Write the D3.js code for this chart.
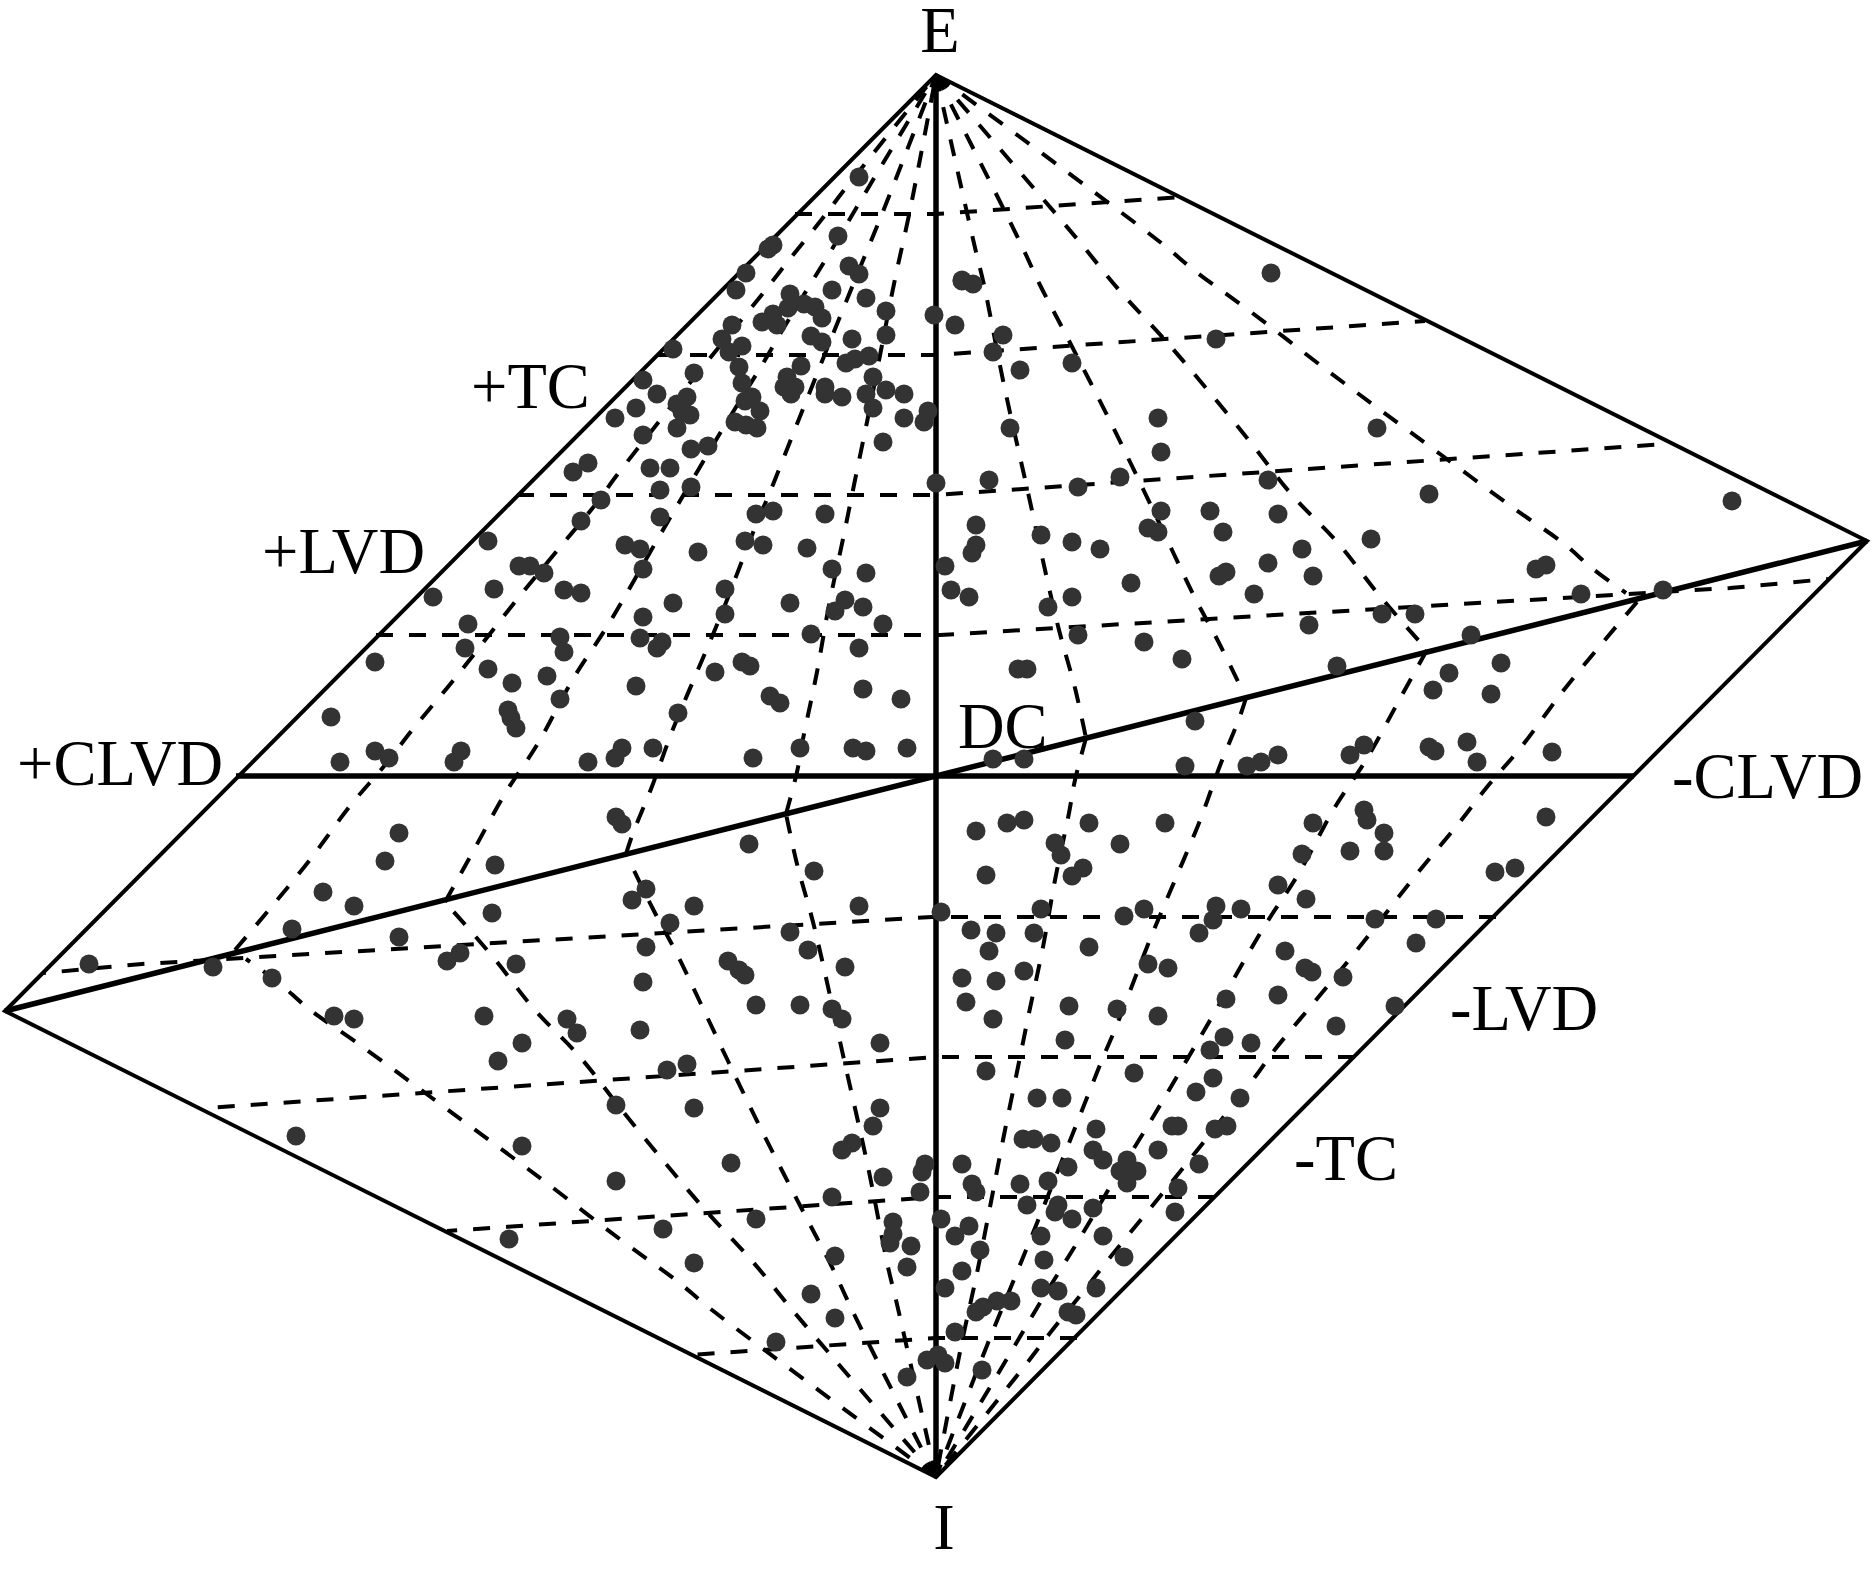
<!DOCTYPE html>
<html>
<head>
<meta charset="utf-8">
<title>Hudson source-type plot</title>
<style>
html, body { margin: 0; padding: 0; background: #fff; }
svg { display: block; }
.outline { fill: none; stroke: #000; stroke-width: 4px; }
.axis-line { fill: none; stroke: #000; stroke-width: 5.5px; }
.grid { fill: none; stroke: #000; stroke-width: 4px; stroke-dasharray: 17 16; }
.dot { fill: #333; }
.label { font-family: "Liberation Serif", "Times New Roman", serif; font-size: 64.5px; fill: #000; }
</style>
</head>
<body>
<div id="chart"></div>
<script src="https://cdn.jsdelivr.net/npm/d3@7"></script>
<script>

var apexE = [0, 701], apexI = [0, -701];
var vertexRight = [931, 235], vertexLeft = [-931, -235];
var clvdLeft = [-700, 0], clvdRight = [698, 0];

// near-horizontal dashed lines, upper half (lower half is the point reflection)
var levelLines = [
  [[-141, 562], [0, 562], [246, 579]],
  [[-279, 421], [0, 421], [489, 455]],
  [[-419, 281], [0, 281], [729, 332]],
  [[-560, 141], [4, 141], [794, 188], [892, 197]]
];

// dashed arcs right of the E-I axis, E to the diagonal (left side is the reflection of lowerArcs)
var upperArcs = [
  [[0, 701], [40, 524], [48, 491], [68, 391], [91, 288], [122, 150], [139, 88], [150, 38]],
  [[0, 701], [83, 536], [104, 491], [129, 443], [173, 357], [208, 285], [236, 226], [259, 178], [282, 135], [310, 78]],
  [[0, 701], [142, 536], [183, 486], [229, 436], [270, 388], [315, 333], [356, 281], [402, 233], [443, 181], [491, 126]],
  [[0, 701], [224, 534], [259, 505], [315, 464], [392, 405], [443, 367], [504, 322], [576, 269], [627, 233], [657, 207], [690, 183]]
];

// dashed arcs right of the axis, diagonal to I
var lowerArcs = [
  [[150, 38], [139, -4], [133, -37], [119, -104], [107, -171], [93, -237], [82, -291], [67, -364], [54, -431], [41, -497], [27, -561], [14, -627], [0, -701]],
  [[310, 78], [303, 57], [285, 13], [263, -47], [239, -104], [215, -161], [180, -251], [166, -284], [137, -357], [101, -447], [79, -501], [52, -567], [27, -631], [0, -701]],
  [[491, 126], [466, 81], [430, 16], [399, -31], [363, -97], [328, -151], [276, -241], [249, -287], [211, -351], [174, -411], [147, -457], [107, -522], [72, -581], [0, -701]],
  [[701, 174], [668, 135], [627, 85], [586, 30], [551, -11], [523, -47], [484, -94], [421, -174], [380, -224], [337, -276], [322, -297], [259, -377], [217, -429], [176, -479], [147, -516], [114, -557], [91, -587], [0, -701]]
];

var dotsTopCluster = [
  [-77,599],[-98,540],[-163,531],[-168,527],[-190,503],[-200,486],[-87,510],[-77,502],[-104,486],[-70,478],
  [-146,482],[-50,465],[-2,461],[19,451],[26,495],[-148,468],[-132,472],[-121,469],[-114,458],[-163,462],
  [-174,454],[-159,451],[-204,451],[-214,437],[-194,430],[-207,424],[-125,440],[-114,434],[-84,437],[-50,441],
  [-263,427],[-67,420],[-81,417],[-90,413],[-135,410],[-197,409],[-242,403],[-293,396],[-63,399],[-149,399],
  [-194,393],[-279,382],[-152,389],[-141,389],[-145,382],[-111,389],[-111,382],[-94,379],[-70,382],[-50,386],
  [-32,382],[-249,379],[-259,372],[-300,368],[-184,379],[-191,375],[-63,368],[-8,365],[-12,354],[-32,358],
  [-176,365],[-246,361],[-254,364],[-321,358],[-201,354],[-190,351],[-179,348],[-259,348],[-293,341],[-53,334],
  [-228,330],[-245,327],[-348,313],[-363,304],[-286,308],[-266,308]
];

var dotsUpperLeft = [
  [-276,286],[-245,289],[-335,276],[-276,259],[-180,262],[-163,265],[-111,262],[-355,255],[-448,235],[-311,231],
  [-296,227],[-238,224],[-191,235],[-173,231],[-129,228],[-293,207],[-417,210],[-406,210],[-392,203],[-104,207],
  [-70,203],[-442,187],[-372,186],[-355,183],[-503,179],[-211,187],[-263,173],[-146,173],[-91,176],[-73,169],
  [-101,165],[-211,162],[-293,159],[-53,152],[-468,152],[-125,142],[-376,139],[-296,138],[-274,134],[-279,128],
  [-372,124],[-471,128],[-77,128],[-561,114],[-194,114],[-186,110],[-448,107],[-221,104],[-389,100],[-424,93],
  [-300,90],[-73,87],[-166,80],[-156,73],[-35,77],[-376,77],[-258,63],[-605,59],[-428,66],[-425,58],
  [-420,48],[-136,28],[-83,28],[-70,25],[-29,28],[-283,28],[-314,28],[-321,18],[-561,25],[-547,18],
  [-475,25],[-482,14],[-596,14],[-348,14],[-183,18],[0,293]
];

var dotsUpperRight = [
  [335,503],[26,496],[37,492],[67,441],[57,424],[84,406],[136,413],[280,437],[222,358],[74,348],
  [441,348],[225,324],[53,296],[184,299],[142,289],[332,296],[493,282],[796,275],[40,251],[225,265],
  [274,265],[342,262],[105,241],[212,248],[222,244],[287,244],[40,231],[36,223],[136,234],[164,227],
  [366,227],[435,237],[9,210],[332,213],[290,204],[283,200],[377,200],[610,211],[600,207],[195,193],
  [15,186],[33,179],[318,182],[136,179],[112,169],[645,182],[727,186],[446,162],[479,162],[373,151],
  [142,141],[208,134],[535,141],[246,117],[82,107],[91,107],[401,110],[565,113],[513,103],[497,86],
  [555,82],[259,55],[428,31],[531,34],[493,29],[499,25],[616,24],[342,21],[414,21],[325,14],
  [311,10],[249,10],[541,14],[57,17],[88,17]
];

var dotsLowerRight = [
  [40,-55],[71,-47],[88,-44],[153,-47],[229,-47],[119,-67],[125,-79],[184,-68],[50,-99],[147,-92],
  [136,-100],[377,-47],[428,-34],[431,-44],[448,-57],[610,-41],[366,-78],[414,-75],[448,-75],[559,-96],
  [579,-92],[342,-109],[370,-123],[5,-136],[105,-133],[188,-140],[208,-133],[280,-130],[305,-133],[277,-144],
  [439,-143],[500,-143],[263,-157],[35,-154],[60,-157],[98,-157],[53,-175],[153,-171],[480,-167],[349,-175],
  [212,-188],[232,-192],[369,-192],[376,-196],[407,-201],[88,-195],[26,-202],[60,-205],[290,-223],[342,-219],
  [459,-230],[30,-226],[133,-230],[181,-233],[222,-240],[57,-243],[400,-250],[288,-261],[315,-267],[129,-264],
  [274,-274],[50,-295],[198,-297],[277,-302]
];

var dotsBottomCluster = [
  [260,-316],[304,-322],[101,-322],[126,-322],[160,-353],[236,-350],[242,-350],[291,-350],[279,-353],[87,-363],
  [98,-363],[115,-367],[157,-374],[167,-384],[222,-374],[191,-384],[184,-395],[201,-395],[192,-399],[191,-407],
  [263,-388],[132,-391],[26,-388],[-11,-388],[-14,-396],[36,-408],[40,-416],[84,-408],[112,-405],[242,-412],
  [-16,-416],[91,-429],[122,-429],[119,-436],[157,-432],[239,-436],[5,-443],[136,-443],[33,-450],[19,-460],
  [105,-460],[167,-460],[44,-474],[188,-481],[108,-484],[26,-495],[9,-512],[105,-512],[122,-515],[160,-512],
  [75,-525],[61,-525],[47,-531],[40,-536],[132,-536],[140,-539],[19,-556],[2,-579],[-9,-584],[9,-587],[46,-594]
];

var dotsLowerLeft = [
  [-537,-57],[-551,-85],[-441,-89],[-320,-41],[-314,-48],[-187,-68],[-122,-95],[-613,-116],[-582,-130],[-290,-113],
  [-304,-124],[-242,-130],[-77,-130],[-444,-137],[-644,-153],[-266,-147],[-146,-156],[-537,-161],[-290,-171],[-128,-174],
  [-476,-177],[-489,-185],[-420,-188],[-208,-185],[-197,-194],[-191,-199],[-91,-191],[-847,-188],[-723,-191],[-664,-202],
  [-293,-206],[-180,-229],[-136,-229],[-104,-233],[-94,-243],[-602,-240],[-582,-243],[-452,-240],[-369,-243],[-359,-257],
  [-296,-254],[-414,-267],[-56,-267],[-438,-285],[-249,-288],[-269,-294],[-320,-329],[-242,-332],[-56,-332],[-63,-350],
  [-84,-367],[-94,-374],[-640,-360],[-414,-370],[-205,-387],[-53,-401],[-320,-405],[-104,-421],[-180,-443],[-273,-453],
  [-427,-463],[-43,-446],[-43,-458],[-46,-467],[-25,-470],[-29,-491],[-101,-480],[-242,-487],[-125,-518],[-101,-542],
  [-160,-566],[-29,-601]
];

var labelNames = ["E", "I", "+TC", "+LVD", "+CLVD", "DC", "-CLVD", "-LVD", "-TC"];
var labelU = [4, 8, -465, -674, -919, 22, 736, 514, 358];
var labelV = [724, -773, 368, 203, -9, 28, -22, -254, -404];
var labelAnchor = ["middle", "middle", "start", "start", "start", "start", "start", "start", "start"];

var width = 1873,
    height = 1569;

var x = d3.scaleLinear().domain([-936, 937]).range([0, width]);
var y = d3.scaleLinear().domain([776, -793]).range([0, height]);

var line = d3.line()
    .x(function (d) { return x(d[0]); })
    .y(function (d) { return y(d[1]); });

var smooth = d3.line()
    .x(function (d) { return x(d[0]); })
    .y(function (d) { return y(d[1]); })
    .curve(d3.curveCatmullRom.alpha(0.5));

function reflect(pts) {
  return pts.map(function (p) { return [-p[0], -p[1]]; });
}

var svg = d3.select("#chart")
    .append("svg")
    .attr("width", width)
    .attr("height", height);

// meridians, each side gets its own arcs plus the reflection of the other side
var arcs = upperArcs.concat(lowerArcs);
arcs = arcs.concat(arcs.map(reflect));

svg.selectAll(".arc")
    .data(arcs)
  .enter().append("path")
    .attr("class", "grid arc")
    .attr("d", smooth);

svg.selectAll(".level")
    .data(levelLines.concat(levelLines.map(reflect)))
  .enter().append("path")
    .attr("class", "grid level")
    .attr("d", line);

svg.append("path")
    .attr("class", "outline")
    .attr("d", line([apexE, vertexRight, apexI, vertexLeft]) + "Z");

svg.selectAll(".axis-line")
    .data([[apexE, apexI], [clvdLeft, clvdRight], [vertexLeft, vertexRight]])
  .enter().append("path")
    .attr("class", "axis-line")
    .attr("d", line);

var dots = dotsTopCluster.concat(dotsUpperLeft, dotsUpperRight, dotsLowerRight, dotsBottomCluster, dotsLowerLeft);

svg.selectAll(".dot")
    .data(dots)
  .enter().append("circle")
    .attr("class", "dot")
    .attr("cx", function (d) { return x(d[0]); })
    .attr("cy", function (d) { return y(d[1]); })
    .attr("r", 9.5);

svg.selectAll(".label")
    .data(labelNames)
  .enter().append("text")
    .attr("class", "label")
    .attr("x", function (d, i) { return x(labelU[i]); })
    .attr("y", function (d, i) { return y(labelV[i]); })
    .attr("text-anchor", function (d, i) { return labelAnchor[i]; })
    .text(function (d) { return d; });

</script>
</body>
</html>
